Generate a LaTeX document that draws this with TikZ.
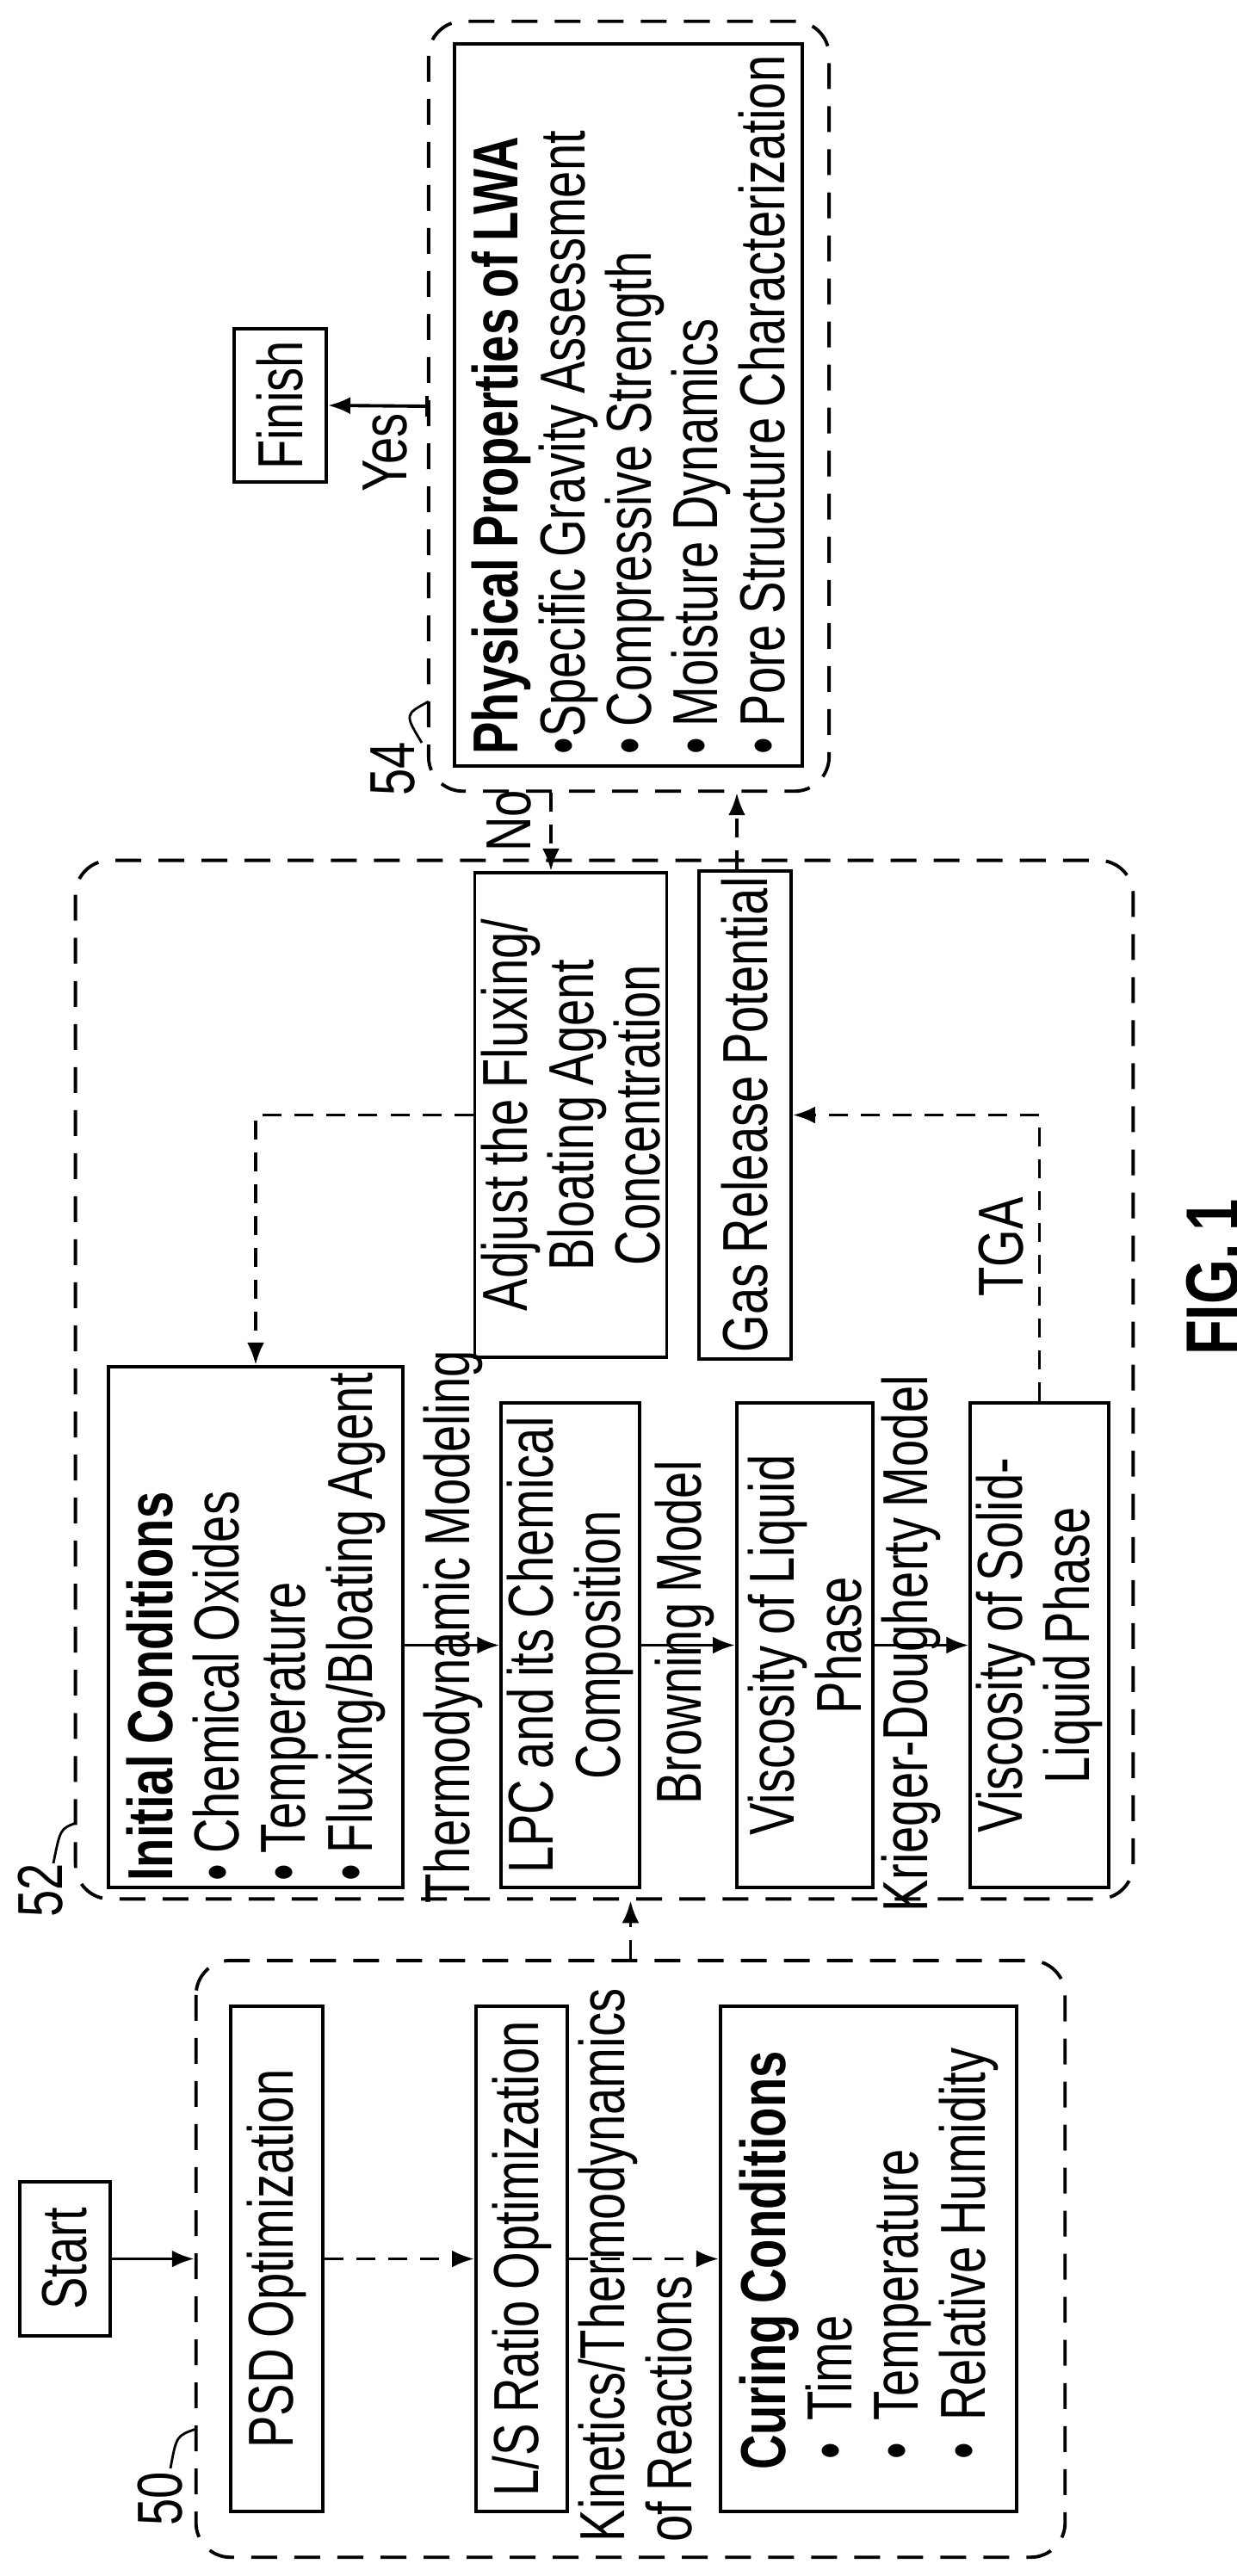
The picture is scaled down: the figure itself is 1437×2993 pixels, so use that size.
\documentclass[tikz,border=0pt]{standalone}
\usepackage{fontspec}
\setmainfont{Liberation Sans}[FakeStretch=0.76,WordSpace=0.8]
\usetikzlibrary{arrows.meta,calc}
\begin{document}
\begin{tikzpicture}[x=0.01cm,y=-0.01cm,
  every node/.style={font=\fontsize{21}{22}\selectfont},
  box/.style={draw,line width=1.1pt,rotate=90,inner sep=2pt,align=center},
  grp/.style={draw,line width=1.1pt,rotate=90,rounded corners=0.4cm,dash pattern=on 0.3cm off 0.2cm},
  lbl/.style={rotate=90,inner sep=1pt,align=center},
  arr/.style={line width=1.1pt,-{Latex[length=0.26cm,width=0.2cm]}},
  darr/.style={arr,dash pattern=on 0.22cm off 0.15cm}]
\useasboundingbox (0,0) rectangle (1437,2993);
% groups
\node[grp,minimum width=6.93cm,minimum height=10.09cm] (b50) at (732.5,2624.5) {};
\node[grp,minimum width=12.06cm,minimum height=12.28cm] (b52) at (702,1603) {};
\node[grp,minimum width=8.94cm,minimum height=4.65cm] (b54) at (730.5,472) {};
% boxes
\node[box,minimum width=1.79cm,minimum height=1.05cm] (start) at (75.5,2624.5) {Start};
\node[box,minimum width=1.78cm,minimum height=1.07cm] (finish) at (325.5,471) {Finish};
\node[box,minimum width=5.87cm,minimum height=1.07cm] (psd) at (321.5,2624.5) {PSD Optimization};
\node[box,minimum width=5.87cm,minimum height=1.06cm] (ls) at (606,2624.5) {L/S Ratio Optimization};
\node[box,minimum width=5.87cm,minimum height=3.44cm,align=left] (cur) at (1009,2624.5)
 {\textbf{Curing Conditions}\\\ \textbullet\ \ Time\\\ \textbullet\ \ Temperature\\\ \textbullet\ \ Relative Humidity};
\node[box,minimum width=8.39cm,minimum height=4.04cm,align=left] (phys) at (730,470.5)
 {\textbf{Physical Properties of LWA}\\\textbullet Specific Gravity Assessment\\\textbullet\ Compressive Strength\\\textbullet\ Moisture Dynamics\\\textbullet\ Pore Structure Characterization};
\node[box,minimum width=6.05cm,minimum height=3.42cm,align=left] (init) at (297,1890.5)
 {\textbf{Initial Conditions}\\\textbullet\ Chemical Oxides\\\textbullet\ Temperature\\\textbullet\ Fluxing/Bloating Agent};
\node[box,minimum width=5.63cm,minimum height=1.57cm] (lpc) at (662.5,1911.5) {LPC and its Chemical\\Composition};
\node[box,minimum width=5.63cm,minimum height=1.58cm] (vl) at (935,1911.5) {Viscosity of Liquid\\Phase};
\node[box,minimum width=5.63cm,minimum height=1.59cm] (vs) at (1207.5,1911.5) {Viscosity of Solid-\\Liquid Phase};
\node[box,minimum width=5.63cm,minimum height=2.0cm] (adj) at (663,1295.5) {Adjust the Fluxing/\\Bloating Agent\\Concentration};
\node[box,minimum width=5.63cm,minimum height=1.07cm] (gas) at (865.5,1295.5) {Gas Release Potential};
% labels
\node[lbl,align=left] (lkin) at (738,2632) {Kinetics/Thermodynamics\\of Reactions};
\node[lbl] (lthm) at (526,1890) {Thermodynamic Modeling};
\node[lbl] (lbrw) at (795,1897) {Browning Model};
\node[lbl] (lkd) at (1058,1910) {Krieger-Dougherty Model};
\node[lbl] (ltga) at (1163,1449) {TGA};
\node[lbl] (lno) at (591,954) {No};
\node[lbl] (lyes) at (447,526) {Yes};
\node[lbl] (n54) at (456,893) {54};
\node[lbl] (n52) at (47,2196) {52};
\node[lbl] (n50) at (186,2903) {50};
\node[lbl,font=\fontsize{25}{26}\selectfont\bfseries] (fig) at (1409,1484) {FIG. 1};
% connectors
\draw[arr] (start.south) -- (start.south -| b50.north);
\draw[darr] (psd.south) -- (ls.north);
\draw[darr] (ls.south) -- (cur.north);
\draw[darr] (b50.east) -- (b50.east |- b52.west);
\draw[arr] (init.south |- lpc.center) -- (lpc.north);
\draw[arr] (lpc.south) -- (vl.north);
\draw[arr] (vl.south) -- (vs.north);
\draw[darr] (vs.east) |- (gas.south);
\draw[darr] (adj.north) -| (init.east);
\coordinate (nox) at (640,0);
\coordinate (gsx) at (856,0);
\draw[darr] (nox |- b54.west) -- (nox |- adj.east);
\draw[darr] (gsx |- gas.east) -- (gsx |- b54.west);
\draw[arr] (b54.north) -- (finish.south);
\draw[line width=1.1pt] ($(b54.north)+(0,-12)$) -- ($(b54.north)+(0,12)$);
% reference leaders
\draw[line width=0.8pt] (n54.south) ++(4,-30) .. controls (470,830) .. (498,815);
\draw[line width=0.8pt] (62,2165) .. controls (70,2125) .. (88,2118);
\draw[line width=0.8pt] (198,2868) .. controls (205,2830) .. (228,2822);
\end{tikzpicture}
\end{document}
